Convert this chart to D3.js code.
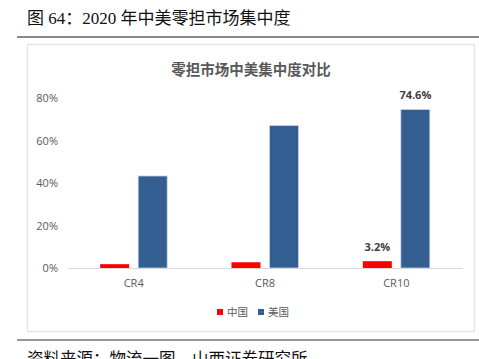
<!DOCTYPE html>
<html>
<head>
<meta charset="utf-8">
<script src="https://cdn.jsdelivr.net/npm/d3@7"></script>
<style>
  body { margin: 0; background: #fff; }
  svg { display: block; }
</style>
</head>
<body>
<div id="chart"></div>
<script>
// data
const categories = ["CR4", "CR8", "CR10"];
const seriesNames = ["中国", "美国"];
const chinaValues = [1.8, 2.7, 3.2];
const usValues = [43.3, 67.0, 74.6];
const yTicks = [0, 20, 40, 60, 80];
const colors = ["#ff0000", "#335e91"];

const W = 479, H = 359;
const svg = d3.select("#chart").append("svg").attr("width", W).attr("height", H);

// page header
svg.append("text")
  .attr("x", 27).attr("y", 24)
  .attr("font-family", "'Liberation Serif', 'Noto Sans CJK SC', serif")
  .attr("font-size", 17).attr("fill", "#111")
  .text("图 64：2020 年中美零担市场集中度");
svg.append("line").attr("x1", 17).attr("x2", W).attr("y1", 37).attr("y2", 37)
  .attr("stroke", "#8a8a8a").attr("stroke-width", 2);

// chart frame
svg.append("rect").attr("x", 27.5).attr("y", 44.5).attr("width", 447).attr("height", 287)
  .attr("fill", "#fff").attr("stroke", "#e6e6e6").attr("stroke-width", 1.5);

svg.append("line").attr("x1", 17).attr("x2", W).attr("y1", 340).attr("y2", 340)
  .attr("stroke", "#333").attr("stroke-width", 1.2);
svg.append("text")
  .attr("x", 27).attr("y", 365)
  .attr("font-family", "'Noto Sans CJK SC', sans-serif")
  .attr("font-size", 16.5).attr("fill", "#111")
  .text("资料来源：物流一图，山西证券研究所");

// chart title
svg.append("text")
  .attr("x", 251).attr("y", 75).attr("text-anchor", "middle")
  .attr("font-family", "'Noto Sans CJK SC', sans-serif")
  .attr("font-size", 14.5).attr("font-weight", "bold").attr("fill", "#595959")
  .text("零担市场中美集中度对比");

const x = d3.scaleBand().domain(categories).range([68, 462]);
const inner = d3.scaleBand().domain(seriesNames).range([0, x.bandwidth()]).paddingInner(0.237).paddingOuter(0.846);
const y = d3.scaleLinear().domain([0, 80]).range([268, 98]);

const font = "'Open Sans', 'Noto Sans', sans-serif";

// y axis labels
svg.append("g").selectAll("text").data(yTicks).join("text")
  .attr("x", 58).attr("y", d => y(d) + 4).attr("text-anchor", "end")
  .attr("font-family", font).attr("font-size", 11).attr("fill", "#595959")
  .text(d => d + "%");

// baseline axis
const xAxis = svg.append("g").attr("transform", "translate(0,268)")
  .call(d3.axisBottom(x).tickSize(0).tickPadding(11));
xAxis.select(".domain").attr("stroke", "#d9d9d9").attr("stroke-width", 1.2);
xAxis.selectAll("text").attr("font-family", font).attr("font-size", 11).attr("fill", "#595959");

const rows = categories.map((c, i) => ({ cat: c, vals: [chinaValues[i], usValues[i]] }));

const groups = svg.append("g").selectAll("g").data(rows).join("g")
  .attr("transform", d => `translate(${x(d.cat)},0)`);

groups.selectAll("rect").data(d => d.vals.map((v, k) => ({ name: seriesNames[k], v: v, k: k })))
  .join("rect")
  .attr("x", d => inner(d.name))
  .attr("width", inner.bandwidth())
  .attr("y", d => y(d.v))
  .attr("height", d => y(0) - y(d.v))
  .attr("fill", d => colors[d.k])
  .attr("stroke", d => d.k === 1 ? "#c9d4e4" : "none")
  .attr("stroke-width", 0.8);

// value labels on CR10 only
const last = rows[rows.length - 1];
svg.append("g").selectAll("text").data(last.vals.map((v, k) => ({ name: seriesNames[k], v: v })))
  .join("text")
  .attr("x", d => x(last.cat) + inner(d.name) + inner.bandwidth() / 2)
  .attr("y", d => y(d.v) - 10)
  .attr("text-anchor", "middle")
  .attr("font-family", font).attr("font-size", 11).attr("font-weight", "bold").attr("fill", "#404040")
  .text(d => d.v.toFixed(1) + "%");

// legend
const legend = svg.append("g").attr("transform", "translate(217,312)");
const items = legend.selectAll("g").data(seriesNames).join("g")
  .attr("transform", (d, i) => `translate(${i * 41},0)`);
items.append("rect").attr("x", 0).attr("y", -3).attr("width", 6).attr("height", 6)
  .attr("fill", (d, i) => colors[i]);
items.append("text").attr("x", 10).attr("y", 4)
  .attr("font-family", "'Noto Sans CJK SC', sans-serif").attr("font-size", 10.5).attr("fill", "#595959")
  .text(d => d);
</script>
</body>
</html>
